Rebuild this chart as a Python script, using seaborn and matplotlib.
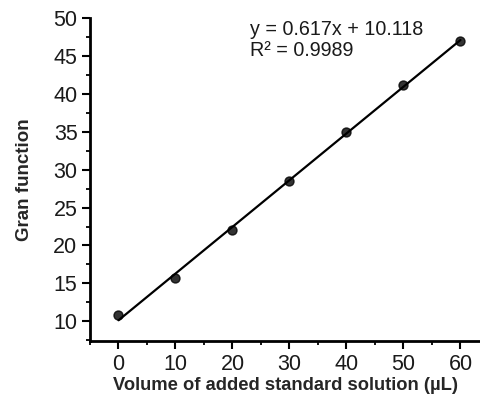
import matplotlib
matplotlib.use("Agg")
import matplotlib.pyplot as plt
import seaborn as sns
import pandas as pd
from matplotlib.ticker import MultipleLocator

volume = [0, 10, 20, 30, 40, 50, 60]
gran = [10.8, 15.7, 22.1, 28.5, 35.0, 41.2, 47.0]
equation = "y = 0.617x + 10.118"
r2 = "R\u00b2 = 0.9989"

sns.set_style("ticks")
plt.rcParams['font.family'] = ['Liberation Sans', 'DejaVu Sans']

df = pd.DataFrame({"volume": volume, "gran": gran})

fig = plt.figure(figsize=(4.81, 3.98), dpi=100)
ax = fig.add_axes([90/481, 1-341/398, (481-90)/481, (341-18)/398])
sns.regplot(data=df, x="volume", y="gran", ax=ax, ci=None, truncate=True,
            scatter_kws=dict(s=42, color="black", edgecolor="black", zorder=3),
            line_kws=dict(color="black", lw=1.6))
ax.set_xlim(-5, 63.6)
ax.set_ylim(7.4, 50)
ax.xaxis.set_major_locator(MultipleLocator(10))
ax.xaxis.set_minor_locator(MultipleLocator(5))
ax.yaxis.set_major_locator(MultipleLocator(5))
ax.yaxis.set_minor_locator(MultipleLocator(2.5))
ax.tick_params(which="major", direction="out", length=6, width=1.5, labelsize=15.5,
               color="black", labelcolor="#1a1a1a", pad=3)
ax.tick_params(axis="x", which="major", pad=3)
ax.tick_params(which="minor", direction="out", length=3, width=1.3, color="black")
for s in ["left", "bottom"]:
    ax.spines[s].set_linewidth(2)
    ax.spines[s].set_color("black")
for s in ["top", "right"]:
    ax.spines[s].set_visible(False)
ax.set_xlabel("Volume of added standard solution (\u00b5L)", fontsize=13.2, fontweight="bold", labelpad=2)
ax.set_ylabel("Gran function", fontsize=13.5, fontweight="bold", labelpad=15)
ax.text(160/391, 0.995, equation + "\n" + r2, transform=ax.transAxes, fontsize=14.2,
        va="top", ha="left", linespacing=1.15, color="#1a1a1a")
fig.savefig("out.png", dpi=100)
